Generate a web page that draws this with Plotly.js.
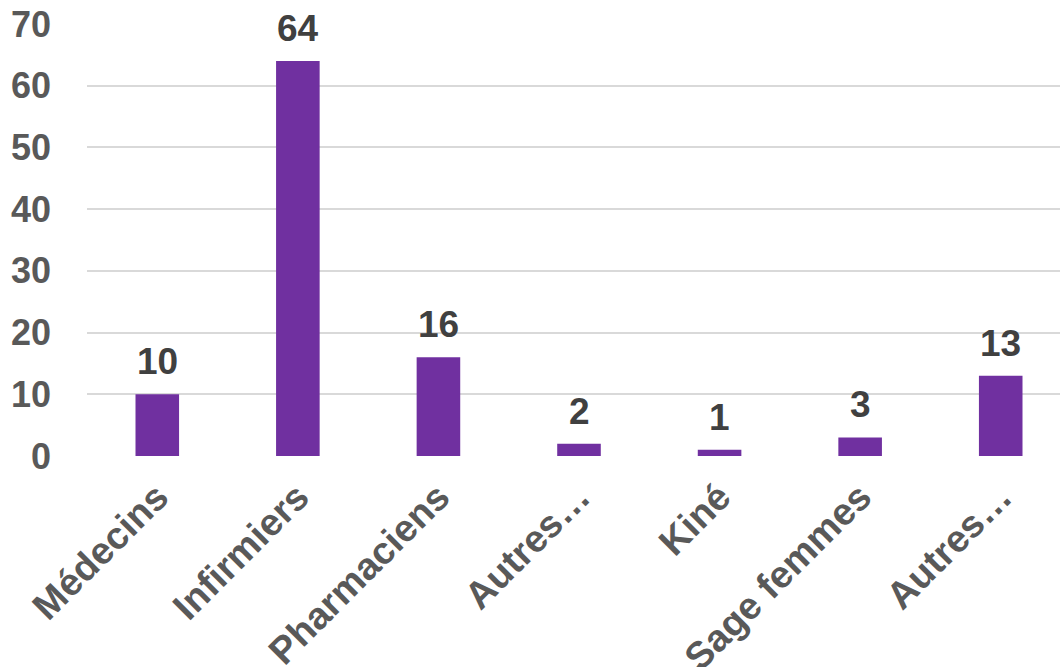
<!DOCTYPE html>
<html>
<head>
<meta charset="utf-8">
<script src="https://cdn.plot.ly/plotly-3.0.1.min.js"></script>
<style>
html,body{margin:0;padding:0;overflow:hidden;background:#fff;}
#chart{width:1072px;height:667px;}
</style>
</head>
<body>
<div id="chart"></div>
<script>
const categories = ["Médecins", "Infirmiers", "Pharmaciens", "Autres…", "Kiné", "Sage femmes", "Autres…"];
const values = [10, 64, 16, 2, 1, 3, 13];
const yTicks = [0, 10, 20, 30, 40, 50, 60, 70];

const positions = categories.map((c, i) => i);
const FONT = 'Liberation Sans, Arial, sans-serif';

const trace = {
  type: 'bar',
  x: positions,
  y: values,
  marker: {color: '#7030A0'},
  hoverinfo: 'none'
};

const annotations = values.map((v, i) => ({
  x: positions[i],
  y: v,
  xref: 'x',
  yref: 'y',
  text: String(v),
  showarrow: false,
  yanchor: 'bottom',
  xanchor: 'center',
  yshift: 10,
  font: {family: FONT, size: 37, color: '#404040', weight: 'bold'}
}));

const layout = {
  width: 1072,
  height: 667,
  autosize: false,
  margin: {l: 87, r: 1, t: 24, b: 211},
  paper_bgcolor: '#ffffff',
  plot_bgcolor: '#ffffff',
  bargap: 0.69,
  showlegend: false,
  font: {family: FONT, color: '#595959'},
  annotations: annotations,
  xaxis: {
    tickmode: 'array',
    tickvals: positions,
    ticktext: categories,
    tickangle: -45,
    range: [-0.5, categories.length - 0.5],
    showgrid: false,
    zeroline: false,
    showline: false,
    ticks: '',
    ticklabelstandoff: 10,
    tickfont: {family: FONT, size: 38, color: '#595959', weight: 'bold'}
  },
  yaxis: {
    range: [0, 70],
    tickmode: 'array',
    tickvals: yTicks,
    ticktext: yTicks.map(String),
    showgrid: true,
    gridcolor: '#d9d9d9',
    gridwidth: 2,
    zeroline: false,
    showline: false,
    ticks: '',
    ticklabelstandoff: 35,
    tickfont: {family: FONT, size: 36, color: '#595959', weight: 'bold'}
  }
};

Plotly.newPlot('chart', [trace], layout, {displayModeBar: false, staticPlot: true});
</script>
</body>
</html>
